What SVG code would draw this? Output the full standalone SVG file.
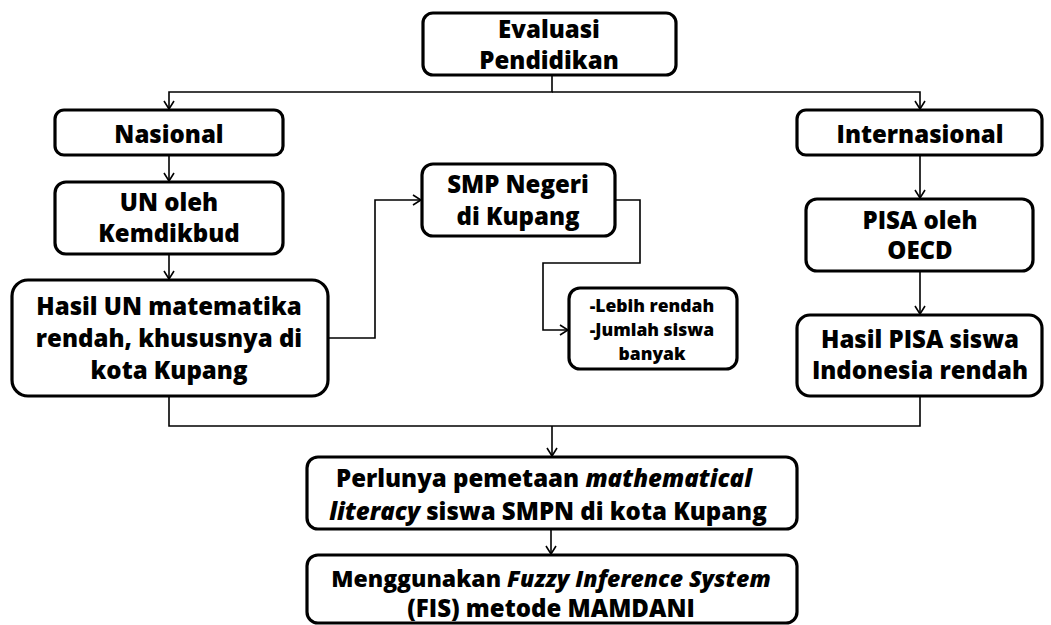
<svg xmlns="http://www.w3.org/2000/svg" width="1051" height="625" viewBox="0 0 1051 625">
<style>
.box{fill:#fff;stroke:#000;stroke-width:3.2}
.t{font-family:"Open Sans",Lato,"Liberation Sans",sans-serif;font-weight:800;font-size:24px;fill:#000;text-anchor:middle}
.s{font-size:17.5px}
.m{font-size:23px}
.c{fill:none;stroke:#000;stroke-width:1.6}
</style>
<defs>
<marker id="arr" viewBox="0 0 12 12" refX="11" refY="6" markerWidth="12" markerHeight="12" markerUnits="userSpaceOnUse" orient="auto">
<path d="M3,1 L11,6 L3,11" fill="none" stroke="#000" stroke-width="1.6"/>
</marker>
</defs>
<rect width="1051" height="625" fill="#fff"/>
<g id="connectors">
<path class="c" d="M552,75 V92 H169 V109" marker-end="url(#arr)"/>
<path class="c" d="M552,92 H920 V109" marker-end="url(#arr)"/>
<path class="c" d="M169,155 V181" marker-end="url(#arr)"/>
<path class="c" d="M169,254 V279" marker-end="url(#arr)"/>
<path class="c" d="M328,338 H375 V200 H421" marker-end="url(#arr)"/>
<path class="c" d="M615,200 H640 V263 H543 V330 H568" marker-end="url(#arr)"/>
<path class="c" d="M920,155 V198" marker-end="url(#arr)"/>
<path class="c" d="M920,271 V314" marker-end="url(#arr)"/>
<path class="c" d="M169,396 V426 H920 V396"/>
<path class="c" d="M552,426 V456" marker-end="url(#arr)"/>
<path class="c" d="M551,529 V554" marker-end="url(#arr)"/>
</g>
<g id="evaluasi">
<rect class="box" x="423" y="13" width="253" height="62" rx="10"/>
<text class="t" x="549" y="38">Evaluasi</text>
<text class="t" x="549" y="69">Pendidikan</text>
</g>
<g id="nasional">
<rect class="box" x="55" y="110" width="228" height="45" rx="9"/>
<text class="t" x="169" y="143">Nasional</text>
</g>
<g id="internasional">
<rect class="box" x="797" y="110" width="245" height="45" rx="9"/>
<text class="t" x="920" y="143">Internasional</text>
</g>
<g id="un">
<rect class="box" x="55" y="182" width="228" height="72" rx="11"/>
<text class="t" x="169" y="211">UN oleh</text>
<text class="t" x="169" y="242">Kemdikbud</text>
</g>
<g id="hasil-un">
<rect class="box" x="12" y="280" width="316" height="116" rx="16"/>
<text class="t" x="169" y="315">Hasil UN matematika</text>
<text class="t" x="169" y="347">rendah, khususnya di</text>
<text class="t" x="169" y="379">kota Kupang</text>
</g>
<g id="smp">
<rect class="box" x="422" y="164" width="193" height="72" rx="11"/>
<text class="t" x="518" y="193">SMP Negeri</text>
<text class="t" x="518" y="225">di Kupang</text>
</g>
<g id="lebih">
<rect class="box" x="569" y="288" width="168" height="81" rx="11"/>
<text class="t s" x="652" y="312">-Lebih rendah</text>
<text class="t s" x="652" y="336">-Jumlah siswa</text>
<text class="t s" x="652" y="360">banyak</text>
</g>
<g id="pisa">
<rect class="box" x="806" y="199" width="227" height="72" rx="11"/>
<text class="t" x="920" y="229">PISA oleh</text>
<text class="t" x="920" y="259">OECD</text>
</g>
<g id="hasil-pisa">
<rect class="box" x="797" y="315" width="245" height="81" rx="13"/>
<text class="t" x="920" y="348">Hasil PISA siswa</text>
<text class="t" x="920" y="379">Indonesia rendah</text>
</g>
<g id="perlunya">
<rect class="box" x="307" y="457" width="490" height="72" rx="11"/>
<text class="t" x="544" y="487">Perlunya pemetaan <tspan font-style="italic">mathematical</tspan></text>
<text class="t" x="548" y="520"><tspan font-style="italic">literacy</tspan> siswa SMPN di kota Kupang</text>
</g>
<g id="menggunakan">
<rect class="box" x="307" y="555" width="490" height="68" rx="11"/>
<text class="t m" x="551" y="587">Menggunakan <tspan font-style="italic">Fuzzy Inference System</tspan></text>
<text class="t" x="551" y="617">(FIS) metode MAMDANI</text>
</g>
</svg>
